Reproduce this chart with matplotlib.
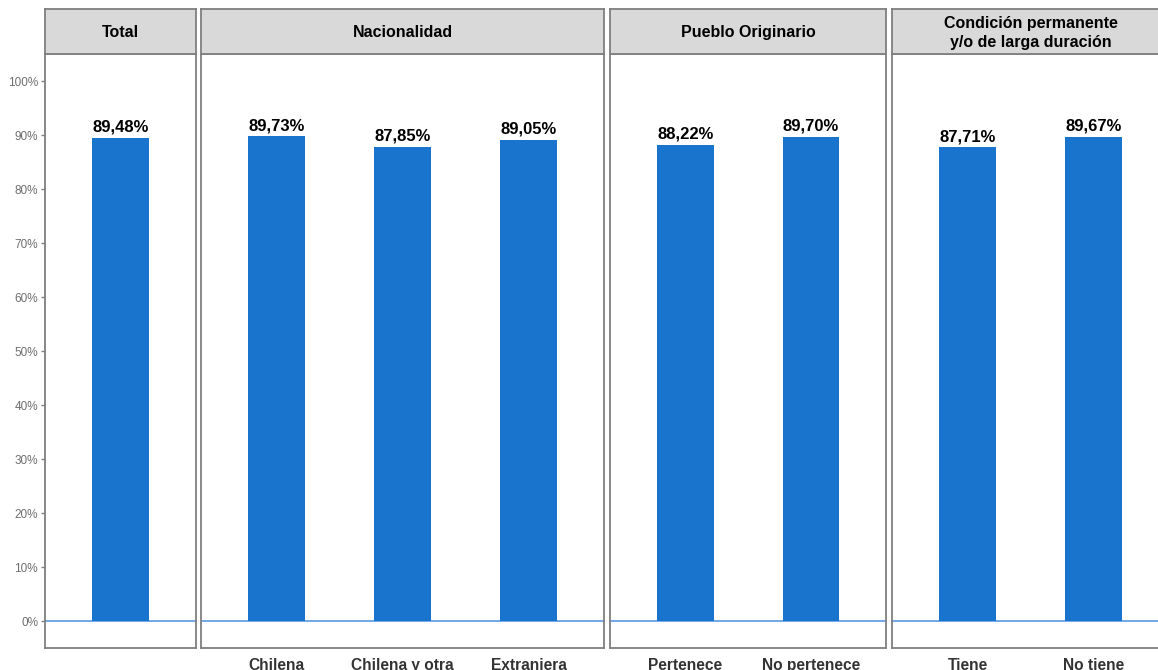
import matplotlib
matplotlib.use("Agg")
import matplotlib.pyplot as plt

plt.rcParams['font.family'] = ['Liberation Sans', 'DejaVu Sans']

# Data
panel_titles = ["Total", "Nacionalidad", "Pueblo Originario", "Condición permanente\ny/o de larga duración"]
total_cats = ["Total"]
total_vals = [89.48]
nac_cats = ["Chilena", "Chilena y otra", "Extranjera"]
nac_vals = [89.73, 87.85, 89.05]
pueblo_cats = ["Pertenece", "No pertenece"]
pueblo_vals = [88.22, 89.70]
cond_cats = ["Tiene", "No tiene"]
cond_vals = [87.71, 89.67]
y_ticks = [0, 10, 20, 30, 40, 50, 60, 70, 80, 90, 100]
y_tick_labels = [f"{t}%" for t in y_ticks]

panels = [
    (panel_titles[0], total_cats, total_vals, False),
    (panel_titles[1], nac_cats, nac_vals, True),
    (panel_titles[2], pueblo_cats, pueblo_vals, True),
    (panel_titles[3], cond_cats, cond_vals, True),
]

W, H = 1158, 670
fig = plt.figure(figsize=(W / 100, H / 100), dpi=100)

# pixel layout
x_edges = [(45, 196), (201, 604), (610, 886), (892, 1169)]
panel_top, panel_bot = 54, 648
strip_top = 9

bar_color = "#1874CD"
border_color = "#7f7f7f"
strip_fill = "#D9D9D9"

def fx(px):
    return px / W

def fy(py):
    return 1 - py / H

for i, ((title, cats, vals, show_x), (x0, x1)) in enumerate(zip(panels, x_edges)):
    ax = fig.add_axes([fx(x0), fy(panel_bot), fx(x1 - x0), (panel_bot - panel_top) / H])
    xs = list(range(len(cats)))
    ax.bar(xs, vals, width=0.45, color=bar_color, zorder=3)
    ax.axhline(0, color="#4A90E2", lw=1.1, zorder=2)
    for x, v in zip(xs, vals):
        ax.text(x, v + 0.6, f"{v:.2f}".replace(".", ",") + "%", ha="center", va="bottom",
                fontsize=12, fontweight="bold", color="black", zorder=4)
    ax.set_xlim(-0.6, len(cats) - 1 + 0.6)
    ax.set_ylim(-5, 105)
    for s in ax.spines.values():
        s.set_color(border_color)
        s.set_linewidth(1.3)
    if show_x:
        ax.set_xticks(xs)
        ax.set_xticklabels(cats, fontsize=11.2, fontweight="bold", color="#333333")
        ax.tick_params(axis="x", length=0, pad=7)
    else:
        ax.set_xticks([])
    if i == 0:
        ax.set_yticks(y_ticks)
        ax.set_yticklabels(y_tick_labels, fontsize=8.5, color="#6e6e6e")
        ax.tick_params(axis="y", length=3, width=1, color="#7f7f7f", pad=2)
    else:
        ax.set_yticks([])

    # strip
    sax = fig.add_axes([fx(x0), fy(panel_top), fx(x1 - x0), (panel_top - strip_top) / H])
    sax.set_facecolor(strip_fill)
    sax.set_xticks([])
    sax.set_yticks([])
    for s in sax.spines.values():
        s.set_color(border_color)
        s.set_linewidth(1.3)
    sax.text(0.5, 0.47, title, ha="center", va="center", fontsize=11.5, fontweight="bold",
             color="black", transform=sax.transAxes, linespacing=1.3)

fig.savefig("out.png", dpi=100)
